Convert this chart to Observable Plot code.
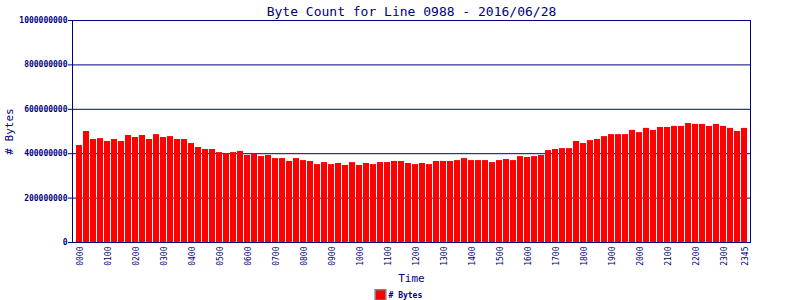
<!DOCTYPE html>
<html>
<head>
<meta charset="utf-8">
<script src="https://cdn.jsdelivr.net/npm/d3@7"></script>
<script src="https://cdn.jsdelivr.net/npm/@observablehq/plot@0.6"></script>
<style>
  html, body { margin: 0; padding: 0; background: #fff; }
</style>
</head>
<body>
<div id="chart"></div>
<script>
const times = [
  "0000","0015","0030","0045","0100","0115","0130","0145","0200","0215","0230","0245",
  "0300","0315","0330","0345","0400","0415","0430","0445","0500","0515","0530","0545",
  "0600","0615","0630","0645","0700","0715","0730","0745","0800","0815","0830","0845",
  "0900","0915","0930","0945","1000","1015","1030","1045","1100","1115","1130","1145",
  "1200","1215","1230","1245","1300","1315","1330","1345","1400","1415","1430","1445",
  "1500","1515","1530","1545","1600","1615","1630","1645","1700","1715","1730","1745",
  "1800","1815","1830","1845","1900","1915","1930","1945","2000","2015","2030","2045",
  "2100","2115","2130","2145","2200","2215","2230","2245","2300","2315","2330","2345"
];
// bytes, in millions
const bytesM = [
  437,500,464,468,455,464,455,482,473,482,464,486,473,477,464,464,
  446,428,419,419,405,401,405,410,392,396,387,392,378,378,365,378,
  369,365,351,360,351,356,347,360,347,356,351,360,360,365,365,356,
  351,356,351,365,365,365,369,378,369,369,369,360,369,374,369,387,
  383,387,392,414,419,423,423,455,446,459,464,477,486,486,486,505,
  495,514,505,518,518,523,523,536,532,532,523,532,523,514,500,514
];
const xTickLabels = ["0000","0100","0200","0300","0400","0500","0600","0700","0800","0900","1000","1100",
  "1200","1300","1400","1500","1600","1700","1800","1900","2000","2100","2200","2300","2345"];
const yTicks = [0, 200000000, 400000000, 600000000, 800000000, 1000000000];
const titleText = "Byte Count for Line 0988 - 2016/06/28";
const xLabel = "Time";
const yLabel = "# Bytes";
const seriesName = "# Bytes";

const data = times.map((t, i) => ({time: t, bytes: bytesM[i] * 1e6}));

const NAVY = "#000080";
const MONO = "DejaVu Sans Mono, Liberation Mono, monospace";

const svg = Plot.plot({
  width: 800,
  height: 300,
  marginLeft: 72,
  marginRight: 50,
  marginTop: 20,
  marginBottom: 58,
  style: {fontFamily: MONO, color: NAVY, background: "#fff"},
  x: {type: "band", domain: times, range: [76, 748], padding: 0},
  y: {domain: [0, 1e9], ticks: yTicks},
  marks: [
    Plot.gridY(yTicks, {stroke: NAVY, strokeOpacity: 1, strokeWidth: 1}),
    Plot.barY(data, {x: "time", y: "bytes", fill: "#ff0000", insetRight: 1, insetLeft: 0}),
    Plot.frame({stroke: NAVY, strokeWidth: 1}),
    Plot.axisY(yTicks, {tickSize: 4, tickPadding: 1, fontSize: 8, fontWeight: "bold",
      tickFormat: d => d3.format("d")(d), label: null, stroke: NAVY, fill: NAVY}),
    Plot.axisX(xTickLabels, {tickSize: 0, tickPadding: 4, tickRotate: -90, fontSize: 8,
      label: null, fill: NAVY}),
    Plot.text([titleText], {frameAnchor: "top", lineAnchor: "middle", textAnchor: "middle",
      dy: -9, fontSize: 13, fill: NAVY, ariaLabel: "title"}),
    Plot.text([xLabel], {frameAnchor: "bottom", lineAnchor: "middle", textAnchor: "middle",
      dy: 36, fontSize: 11, fill: NAVY}),
    Plot.text([yLabel], {frameAnchor: "left", lineAnchor: "middle", textAnchor: "middle",
      dx: -63, rotate: -90, fontSize: 11, fill: NAVY}),
    Plot.dot([seriesName], {frameAnchor: "bottom", dx: -31, dy: 52.5, symbol: "square", r: 6,
      fill: "#ff0000", stroke: "#808080", strokeWidth: 1.5}),
    Plot.text([seriesName], {frameAnchor: "bottom", lineAnchor: "middle", dx: -23, dy: 53,
      textAnchor: "start", fontSize: 8, fontWeight: "bold", fill: NAVY})
  ]
});

d3.select(svg).selectAll('g[aria-label="title"] text')
  .attr("textLength", 296).attr("lengthAdjust", "spacingAndGlyphs");

document.getElementById("chart").appendChild(svg);
</script>
</body>
</html>
